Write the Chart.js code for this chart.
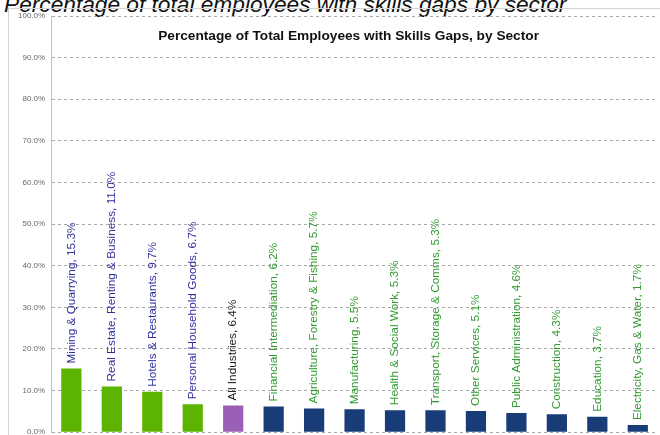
<!DOCTYPE html>
<html>
<head>
<meta charset="utf-8">
<script src="https://cdn.jsdelivr.net/npm/chart.js@4.4.1/dist/chart.umd.min.js"></script>
<style>
    html, body { margin: 0; padding: 0; background: #fff; overflow: hidden; }
    #wrap { position: relative; width: 660px; height: 435px; overflow: hidden; }
    #caption {
        position: absolute; left: 4px; top: -7px;
        font: italic 22.7px/22px "Liberation Sans", Arial, sans-serif; color: #111;
        white-space: nowrap;
    }
    #frame {
        position: absolute; left: 8px; top: 8px; width: 660px; height: 440px;
        border-left: 1px solid #d4d4d4; border-top: 1px solid #d4d4d4;
    }
    #chartBox { position: absolute; left: 0; top: 0; width: 660px; height: 443px; }
</style>
</head>
<body>
<div id="wrap">
    <div id="caption">Percentage of total employees with skills gaps by sector</div>
    <div id="frame"></div>
    <div id="chartBox"><canvas id="skillsChart"></canvas></div>
</div>
<script>
// Sectors and the share of employees with skills gaps (%)
const sectors = [
    'Mining & Quarrying', 'Real Estate, Renting & Business', 'Hotels & Restaurants',
    'Personal Household Goods', 'All Industries', 'Financial Intermediation',
    'Agriculture, Forestry & Fishing', 'Manufacturing', 'Health & Social Work',
    'Transport, Storage & Comms', 'Other Services', 'Public Administration',
    'Construction', 'Education', 'Electricity, Gas & Water'
];
const gapShare = [15.3, 11.0, 9.7, 6.7, 6.4, 6.2, 5.7, 5.5, 5.3, 5.3, 5.1, 4.6, 4.3, 3.7, 1.7];
// group of each bar: 'high' above average, 'all' the average, 'low' below
const groups = ['high', 'high', 'high', 'high', 'all', 'low', 'low', 'low', 'low', 'low', 'low', 'low', 'low', 'low', 'low'];
const yTicks = [0, 10, 20, 30, 40, 50, 60, 70, 80, 90, 100];

const barColours = { high: '#5cb400', all: '#9b5fb5', low: '#183c78' };
const textColours = { high: '#2f2f9e', all: '#1a1a1a', low: '#2f9a2f' };

// Rotated value labels sitting on top of each bar, plus the inner title
const barLabels = {
    id: 'barLabels',
    afterDatasetsDraw(chart) {
        const ctx = chart.ctx;
        const meta = chart.getDatasetMeta(0);
        ctx.save();
        ctx.font = '11.8px "Liberation Sans", Arial, sans-serif';
        ctx.textAlign = 'left';
        ctx.textBaseline = 'middle';
        meta.data.forEach((bar, i) => {
            ctx.save();
            ctx.translate(bar.x, bar.y - 5);
            ctx.rotate(-Math.PI / 2);
            ctx.fillStyle = textColours[groups[i]];
            ctx.fillText(sectors[i] + ', ' + gapShare[i].toFixed(1) + '%', 0, 0);
            ctx.restore();
        });
        // chart title drawn inside the plot area
        const area = chart.chartArea;
        ctx.font = 'bold 13.7px "Liberation Sans", Arial, sans-serif';
        ctx.fillStyle = '#111';
        ctx.textAlign = 'center';
        ctx.fillText('Percentage of Total Employees with Skills Gaps, by Sector', (area.left + area.right) / 2 - 6, area.top + 20);
        ctx.restore();
    }
};

const ctx = document.getElementById('skillsChart').getContext('2d');
const skillsChart = new Chart(ctx, {
    type: 'bar',
    data: {
        labels: sectors,
        datasets: [{
            data: gapShare,
            backgroundColor: groups.map(g => barColours[g]),
            barPercentage: 0.5,
            categoryPercentage: 1
        }]
    },
    options: {
        responsive: true,
        maintainAspectRatio: false,
        animation: false,
        layout: { padding: { top: 16, right: 2, bottom: 4, left: 12 } },
        plugins: {
            legend: { display: false },
            tooltip: { enabled: false }
        },
        scales: {
            x: {
                display: false
            },
            y: {
                min: 0,
                max: 100,
                afterBuildTicks: axis => { axis.ticks = yTicks.map(v => ({ value: v })); },
                ticks: {
                    color: '#666',
                    padding: 6,
                    font: { size: 8, family: '"Liberation Sans", Arial, sans-serif' },
                    callback: value => value.toFixed(1) + '%'
                },
                grid: {
                    color: '#a8a8a8',
                    drawTicks: false,
                    borderDash: [3, 3]
                },
                border: { color: '#c0c0c0', dash: [3, 3] }
            }
        }
    },
    plugins: [barLabels]
});
</script>
</body>
</html>
